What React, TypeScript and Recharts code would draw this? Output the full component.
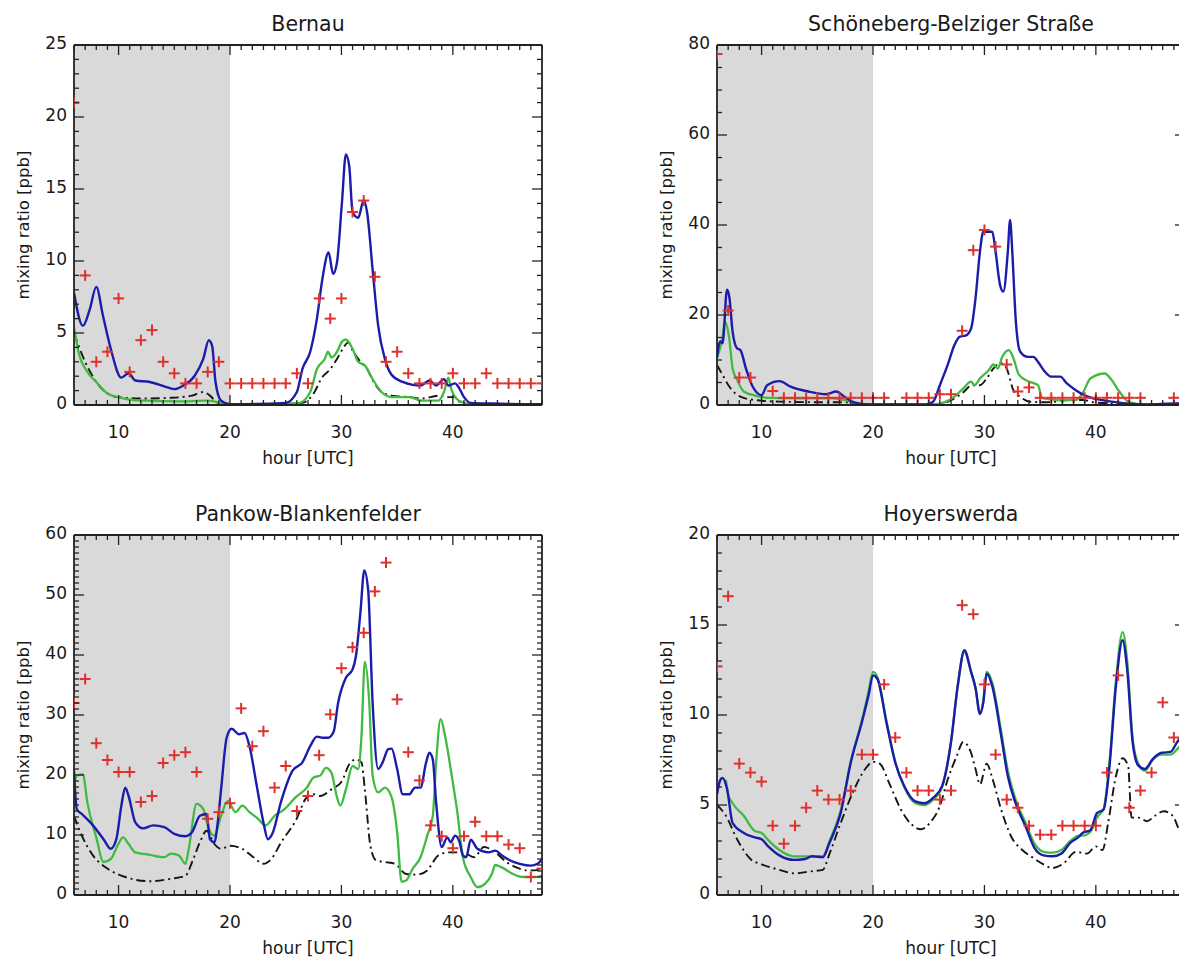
import React from "react";
import { ComposedChart, Line, Scatter, XAxis, YAxis, ReferenceArea } from "recharts";

type Pt = [number, number];

const FONT = "'DejaVu Sans', Verdana, sans-serif";
const AXIS = "#222";
const BLUE = "#1c1cac";
const GREEN = "#40bb40";
const BLACK = "#151515";
const RED = "#e0302c";
const NIGHT = "#d9d9d9";

const PLOT_W = 468;
const PLOT_H = 360;
const M = { top: 45, left: 74, right: 58, bottom: 75 };
const CHART_W = M.left + PLOT_W + M.right;
const CHART_H = M.top + PLOT_H + M.bottom;
// room taken by the axes themselves; the margins passed to the chart are reduced by these
const AX_L = 40;
const AX_R = 10;
const AX_T = 10;
const AX_B = 30;
const CHART_MARGIN = { top: M.top - AX_T, left: M.left - AX_L, right: M.right - AX_R, bottom: M.bottom - AX_B };

const X_MIN = 6;
const X_MAX = 48;
const NIGHT_END = 20;

// ---- Bernau ----
const BERNAU_OBS: Pt[] = [
  [6, 21], [7, 9], [8, 3], [9, 3.7], [10, 7.4], [11, 2.3], [12, 4.5], [13, 5.2], [14, 3], [15, 2.2],
  [16, 1.5], [17, 1.5], [18, 2.3], [19, 3], [20, 1.5], [21, 1.5], [22, 1.5], [23, 1.5], [24, 1.5], [25, 1.5],
  [26, 2.2], [27, 1.5], [28, 7.4], [29, 6], [30, 7.4], [31, 13.4], [32, 14.2], [33, 8.9], [34, 3], [35, 3.7],
  [36, 2.2], [37, 1.5], [38, 1.5], [39, 1.5], [40, 2.2], [41, 1.5], [42, 1.5], [43, 2.2], [44, 1.5], [45, 1.5],
  [46, 1.5], [47, 1.5], [48, 1.5],
];
const BERNAU_BLUE: Pt[] = [
  [6, 7.8], [6.8, 5.5], [7.4, 6.6], [8, 8.2], [8.6, 6.2], [9.3, 3.9], [10.25, 1.9], [10.9, 2.2], [11.5, 1.7],
  [12.8, 1.6], [14.1, 1.3], [15, 1.1], [15.8, 1.35], [16.8, 2.0], [17.6, 3.2], [18.1, 4.5], [18.4, 4.1],
  [18.7, 1.6], [19.2, 0.3], [20, 0.05], [25, 0.15], [26, 0.9], [26.5, 2.5], [27.2, 3.7], [27.8, 6.0],
  [28.3, 8.8], [28.85, 10.6], [29.25, 9.1], [29.6, 9.9], [30.05, 14.1], [30.4, 17.4], [30.7, 16.6], [31, 13.4],
  [31.5, 13.0], [32, 14.2], [32.3, 13.4], [32.8, 9.4], [33.3, 5.5], [33.9, 3.2], [34.5, 2.1], [35.5, 1.6],
  [36.4, 1.4], [37.1, 1.35], [37.9, 1.7], [38.5, 1.35], [39.2, 1.8], [39.6, 1.35], [40.2, 1.5], [40.5, 1.25],
  [41, 0.55], [41.6, 0.15], [43.5, 0.1], [48, 0.05],
];
const BERNAU_GREEN: Pt[] = [
  [6, 5.4], [6.4, 3.7], [7.2, 2.3], [8, 1.6], [9, 0.8], [9.9, 0.55], [12.2, 0.3], [15.4, 0.25], [17.9, 0.3],
  [19.2, 0.15], [20, 0.03], [26.2, 0.15], [27.2, 0.9], [27.8, 2.5], [28.5, 3.2], [28.8, 3.7], [29.1, 3.3],
  [29.6, 3.7], [30.05, 4.4], [30.4, 4.55], [31, 3.9], [31.5, 3.0], [32.1, 2.75], [32.8, 1.8], [33.6, 0.9],
  [34.5, 0.55], [36.1, 0.55], [37.2, 0.3], [38.7, 0.3], [39.2, 0.9], [39.6, 1.9], [39.8, 1.25], [40.3, 0.45],
  [41, 0.15], [41.9, 0.02], [48, 0.02],
];
const BERNAU_BLACK: Pt[] = [
  [6, 5.0], [7, 3.0], [8, 1.6], [9.9, 0.55], [12.2, 0.45], [14.7, 0.5], [16.6, 0.65], [17.6, 0.9], [18.2, 0.65],
  [18.9, 0.15], [20, 0.02], [26.5, 0.15], [27.5, 0.8], [28.3, 1.95], [28.9, 2.4], [29.6, 3.2], [30.2, 4.0],
  [30.6, 4.35], [31, 3.8], [31.7, 3.0], [32.3, 2.5], [32.9, 1.6], [33.6, 0.9], [34.5, 0.65], [36.1, 0.55],
  [37.2, 0.45], [38, 0.55], [38.8, 0.65], [39.5, 0.55], [40.2, 0.55], [40.6, 0.2], [41.2, 0.02], [48, 0.02],
];

// ---- Schöneberg ----
const SCHOENEBERG_OBS: Pt[] = [
  [6, 78], [7, 21], [8, 6.1], [9, 6.1], [11, 3.1], [12, 1.6], [13, 1.6], [14, 1.6], [15, 1.6], [16, 1.6],
  [17, 1.6], [18, 1.6], [19, 1.6], [20, 1.6], [21, 1.6], [23, 1.6], [24, 1.6], [25, 1.6], [26, 2.4], [27, 2.4],
  [28, 16.5], [29, 34.4], [30, 38.9], [31, 35.2], [32, 9.0], [33, 3.0], [34, 3.9], [35, 1.6], [36, 1.6],
  [37, 1.6], [38, 1.6], [39, 1.6], [40, 1.6], [41, 1.6], [42, 1.6], [43, 1.6], [44, 1.6], [47, 1.6],
];
const SCHOENEBERG_BLUE: Pt[] = [
  [6, 10.7], [6.3, 14.1], [6.5, 13.7], [6.9, 25.6], [7.1, 24.1], [7.4, 16.3], [7.8, 12.6], [8.1, 12.2],
  [8.6, 8.1], [9.2, 4.1], [10, 2.2], [10.5, 4.4], [11.6, 5.3], [12.6, 4.1], [14.2, 3.0], [15.8, 2.4],
  [16.7, 3.0], [17.4, 1.9], [18.3, 0.6], [19.6, 0.15], [24.75, 0.15], [25.4, 0.75], [26, 4.4], [26.7, 8.9],
  [27.3, 13.3], [27.8, 15.2], [28.3, 15.4], [28.8, 17.0], [29.2, 23.7], [29.6, 34.1], [29.9, 38.5],
  [30.2, 38.5], [30.7, 38.5], [31, 34.1], [31.4, 26.7], [31.7, 25.2], [32.1, 34.1], [32.3, 41.1], [32.5, 34.1],
  [32.8, 19.3], [33.2, 11.9], [33.9, 10.7], [34.4, 10.7], [34.8, 9.6], [35.3, 7.8], [36, 6.3], [36.8, 6.3],
  [37.4, 4.8], [38.2, 3.3], [39.2, 1.9], [40.1, 1.3], [41.4, 0.75], [42.7, 0.35], [44.6, 0.15], [47.2, 0.35],
  [48, 0.3],
];
const SCHOENEBERG_GREEN: Pt[] = [
  [6, 10.4], [6.5, 15.2], [6.7, 18.5], [7.1, 14.8], [7.4, 8.1], [7.8, 5.6], [8.4, 3.0], [9.4, 2.1], [10.6, 1.6],
  [13.2, 1.5], [16.4, 1.5], [17.7, 0.9], [19, 0.15], [25.4, 0.15], [26.4, 0.6], [27.3, 1.85], [28.1, 3.7],
  [28.8, 5.2], [29.1, 4.4], [29.6, 5.9], [30.4, 7.8], [30.8, 9.0], [31.2, 8.1], [31.6, 10.7], [32.2, 12.2],
  [32.6, 10.4], [33.1, 6.7], [34, 5.2], [34.8, 4.4], [35.2, 1.5], [36.6, 1.1], [38.2, 1.1], [38.9, 3.0],
  [39.5, 5.9], [40.8, 7.0], [41.4, 5.6], [42.1, 3.0], [43, 0.6], [44.3, 0.15], [48, 0.15],
];
const SCHOENEBERG_BLACK: Pt[] = [
  [6, 8.9], [6.5, 6.7], [7.1, 4.1], [8.1, 1.85], [9.4, 1.1], [11.6, 0.75], [16.4, 0.6], [17.7, 0.6], [19, 0.15],
  [26, 0.15], [27, 1.1], [28, 2.6], [28.9, 4.4], [29.6, 4.4], [30.2, 5.9], [30.8, 8.1], [31.5, 9.3], [32, 8.1],
  [32.6, 3.3], [33.2, 1.85], [34, 0.75], [35.6, 0.6], [37.6, 1.1], [38.9, 1.1], [39.8, 0.6], [41.4, 0.35],
  [48, 0.15],
];

// ---- Pankow-Blankenfelder ----
const PANKOW_OBS: Pt[] = [
  [6, 32], [7, 36], [8, 25.3], [9, 22.5], [10, 20.5], [11, 20.5], [12, 15.5], [13, 16.5], [14, 22], [15, 23.3],
  [16, 23.8], [17, 20.5], [18, 12.7], [19, 13.8], [20, 15.3], [21, 31.1], [22, 24.8], [23, 27.3], [24, 17.9],
  [25, 21.5], [26, 14], [27, 16.5], [28, 23.3], [29, 30.1], [30, 37.8], [31, 41.3], [32, 43.7], [33, 50.6],
  [34, 55.4], [35, 32.6], [36, 23.8], [37, 19.1], [38, 11.6], [39, 9.8], [40, 7.8], [41, 9.8], [42, 12.2],
  [43, 9.8], [44, 9.8], [45, 8.4], [46, 7.8], [47, 3], [48, 4.4],
];
const PANKOW_BLUE: Pt[] = [
  [6, 20.7], [6.25, 14.3], [6.7, 13.5], [7.7, 11.6], [8.65, 9.3], [9.3, 7.7], [9.8, 9.3], [10.25, 14.9],
  [10.6, 17.9], [10.9, 16.5], [11.5, 12.1], [12.2, 11.1], [13.1, 11.6], [14.1, 11.3], [15, 10.2], [16, 9.8],
  [16.6, 10.5], [17.3, 13.2], [17.9, 13.5], [18.2, 9.3], [18.6, 8.8], [18.9, 12.1], [19.2, 17.6], [19.7, 26.2],
  [20.15, 27.7], [20.8, 26.8], [21.3, 27.0], [21.75, 24.8], [22.4, 18.2], [23, 12.1], [23.4, 9.3], [23.8, 10.2],
  [24.6, 15.7], [25.6, 20.7], [26.5, 22.1], [27.2, 24.8], [27.8, 26.4], [28.3, 26.2], [28.8, 26.2], [29.3, 27.2],
  [29.7, 32.0], [30.4, 36.2], [31, 37.6], [31.3, 39.8], [31.7, 47.0], [32.05, 54.1], [32.4, 50.8], [32.8, 32.0],
  [33.3, 21.0], [33.7, 22.1], [34.2, 24.3], [34.5, 24.4], [35, 21.0], [35.5, 16.8], [36.1, 16.8], [36.6, 17.9],
  [37.1, 17.9], [37.6, 22.1], [37.9, 23.7], [38.2, 22.6], [38.5, 15.4], [39, 8.0], [39.5, 9.6], [39.8, 8.8],
  [40.2, 9.9], [40.6, 8.8], [40.9, 6.6], [41.2, 6.3], [41.6, 9.2], [42.2, 7.7], [43.2, 7.1], [43.8, 7.4],
  [44.4, 6.6], [45.1, 5.8], [46, 5.2], [47, 4.9], [47.6, 5.2], [48, 6.0],
];
const PANKOW_GREEN: Pt[] = [
  [6, 18.5], [6.25, 19.9], [6.8, 20.1], [7.2, 15.4], [8, 9.6], [8.65, 5.5], [9.3, 6.0], [9.9, 8.2], [10.4, 9.6],
  [10.9, 8.5], [11.5, 7.1], [12.8, 6.7], [14.1, 6.3], [14.7, 6.9], [15.4, 6.6], [16, 5.2], [16.3, 7.7],
  [17, 15.2], [17.6, 14.3], [18.1, 11.0], [18.6, 9.9], [19.2, 13.2], [19.8, 15.7], [20.5, 13.8], [21.1, 14.9],
  [21.75, 13.8], [22.4, 12.9], [23.2, 11.6], [24, 13.2], [24.9, 14.3], [25.9, 16.3], [26.9, 17.9], [27.5, 19.6],
  [28.1, 19.9], [28.6, 21.2], [29.1, 20.4], [29.6, 16.3], [29.9, 14.9], [30.4, 17.6], [31, 21.5], [31.5, 21.0],
  [31.8, 26.5], [32.1, 38.9], [32.5, 32.0], [32.8, 19.9], [33.3, 17.1], [33.9, 17.9], [34.5, 16.3], [35, 10.5],
  [35.4, 2.2], [35.8, 2.4], [36.4, 4.4], [37.1, 6.3], [37.7, 9.9], [38.2, 13.2], [38.5, 22.1], [38.9, 29.3],
  [39.3, 26.5], [39.9, 19.9], [40.4, 13.8], [40.9, 6.3], [41.6, 3.0], [42.2, 1.3], [42.9, 1.9], [43.5, 3.5],
  [43.8, 5.0], [44.4, 4.6], [45.4, 3.5], [46.3, 3.0], [47.3, 3.0], [48, 3.2],
];
const PANKOW_BLACK: Pt[] = [
  [6, 13.2], [6.7, 9.9], [7.7, 6.6], [9, 4.4], [10.6, 3.0], [12.8, 2.3], [14.7, 2.7], [16, 3.2], [16.6, 5.5],
  [17.3, 8.8], [17.9, 10.7], [18.6, 8.5], [19.2, 7.7], [20, 8.2], [21.1, 7.7], [22.1, 6.3], [23, 5.2],
  [23.7, 6.0], [24.6, 8.8], [25.9, 12.4], [26.9, 16.3], [27.5, 16.8], [28.1, 16.5], [29.1, 17.6], [30.05, 19.0],
  [30.7, 21.8], [31.3, 22.6], [31.8, 22.1], [32.1, 17.6], [32.6, 8.2], [33.1, 5.8], [33.9, 5.5], [34.8, 5.2],
  [35.8, 3.5], [36.8, 3.4], [37.7, 4.1], [38.7, 6.6], [39.6, 7.1], [40.9, 7.1], [41.9, 6.3], [42.8, 8.0],
  [43.8, 7.1], [44.8, 5.5], [45.7, 4.6], [46.7, 4.1], [47.3, 4.1], [48, 4.4],
];

// ---- Hoyerswerda ----
const HOYERSWERDA_OBS: Pt[] = [
  [6, 12.7], [7, 16.6], [8, 7.3], [9, 6.8], [10, 6.3], [11, 3.85], [12, 2.85], [13, 3.85], [14, 4.85], [15, 5.8],
  [16, 5.3], [17, 5.3], [18, 5.8], [19, 7.8], [20, 7.8], [21, 11.7], [22, 8.75], [23, 6.8], [24, 5.8], [25, 5.8],
  [26, 5.3], [27, 5.8], [28, 16.1], [29, 15.6], [30, 11.7], [31, 7.8], [32, 5.3], [33, 4.85], [34, 3.85],
  [35, 3.35], [36, 3.35], [37, 3.85], [38, 3.85], [39, 3.85], [40, 3.85], [41, 6.8], [42, 12.2], [43, 4.85],
  [44, 5.8], [45, 6.8], [46, 10.7], [47, 8.75],
];
const HOYERSWERDA_BLUE: Pt[] = [
  [6, 5.6], [6.3, 6.4], [6.5, 6.5], [6.9, 5.9], [7.4, 4.0], [8.4, 3.45], [9.4, 3.2], [10, 3.1], [10.6, 2.7],
  [11.6, 2.2], [12.9, 1.95], [13.9, 2.0], [14.5, 2.15], [15.5, 2.1], [16.1, 2.9], [17.1, 4.55], [18, 7.35],
  [19, 9.6], [19.6, 11.1], [20, 12.2], [20.4, 12.0], [21.2, 9.6], [22, 7.35], [22.8, 6.05], [23.8, 5.2],
  [24.6, 5.1], [25.4, 5.4], [26.2, 6.05], [27, 8.5], [27.6, 11.6], [28.2, 13.6], [28.8, 12.4], [29.2, 11.5],
  [29.6, 10.05], [29.9, 10.7], [30.2, 12.3], [30.7, 11.6], [31.5, 8.85], [32.1, 6.6], [32.8, 5.1], [33.7, 3.8],
  [34.5, 2.6], [35.3, 2.2], [36.1, 2.15], [36.9, 2.3], [37.7, 2.9], [38.5, 3.25], [38.8, 3.45], [39.5, 3.6],
  [40.1, 4.55], [40.7, 4.75], [41.2, 7.0], [41.8, 11.6], [42.4, 14.15], [42.8, 12.6], [43.3, 8.5], [43.8, 7.2],
  [44.4, 7.0], [45.1, 7.55], [45.9, 7.9], [46.7, 7.95], [47.3, 8.5], [48, 9.0],
];
const HOYERSWERDA_GREEN: Pt[] = [
  [6.8, 6.4], [7.0, 5.6], [7.4, 5.1], [8.4, 4.4], [9.4, 3.55], [10, 3.45], [10.6, 3.05], [11.6, 2.5],
  [12.9, 2.15], [14.2, 2.15], [15.5, 2.15], [16.1, 3.0], [17.1, 4.7], [18, 7.4], [19, 9.7], [19.6, 11.3],
  [20, 12.4], [20.4, 12.1], [21.2, 9.7], [22, 7.4], [22.8, 6.0], [23.8, 5.1], [24.6, 5.0], [25.4, 5.3],
  [26.2, 6.0], [27, 8.5], [27.6, 11.6], [28.2, 13.5], [28.8, 12.4], [29.2, 11.5], [29.6, 10.1], [29.9, 10.8],
  [30.2, 12.4], [30.7, 11.8], [31.5, 9.1], [32.1, 6.9], [32.8, 5.3], [33.7, 4.0], [34.5, 2.85], [35.3, 2.4],
  [36.1, 2.35], [36.9, 2.5], [37.7, 3.0], [38.5, 3.3], [38.8, 3.3], [39.5, 3.5], [40.1, 4.3], [40.7, 4.8],
  [41.2, 7.2], [41.8, 11.9], [42.4, 14.6], [42.8, 13.1], [43.3, 8.7], [43.8, 7.3], [44.4, 6.9], [45.1, 7.5],
  [45.9, 7.8], [46.7, 7.8], [47.3, 8.1], [48, 8.6],
];
const HOYERSWERDA_BLACK: Pt[] = [
  [6, 5.0], [6.8, 4.4], [7.8, 3.1], [9, 2.0], [10, 1.7], [11.6, 1.4], [13, 1.2], [14.2, 1.3], [15.5, 1.4],
  [16.1, 2.3], [17.1, 4.0], [18.3, 5.85], [19.3, 7.0], [20, 7.4], [20.6, 7.3], [21.5, 6.15], [22.5, 4.75],
  [23.5, 3.9], [24.3, 3.65], [25.1, 4.0], [26, 4.95], [26.7, 6.4], [27.5, 7.7], [28.1, 8.5], [28.8, 7.9],
  [29.2, 7.0], [29.6, 6.15], [30.2, 7.3], [30.7, 6.5], [31.5, 4.75], [32.4, 3.25], [33.4, 2.5], [34.4, 2.05],
  [35.3, 1.7], [36.1, 1.5], [37.1, 1.75], [38.2, 2.4], [39.2, 2.3], [40, 2.7], [40.6, 2.5], [41.1, 4.0],
  [41.8, 6.6], [42.4, 7.6], [42.9, 7.15], [43.2, 4.3], [43.8, 4.3], [44.6, 4.1], [45.3, 4.4], [46.1, 4.65],
  [46.9, 4.4], [47.5, 3.6], [48, 3.2],
];

const toRows = (pts: Pt[]) => pts.map(([h, v]) => ({ h, v }));

const range = (a: number, b: number, step: number) => {
  const out: number[] = [];
  for (let v = a; v <= b + 1e-9; v += step) out.push(Math.round(v * 1000) / 1000);
  return out;
};

const X_TICKS = range(X_MIN, X_MAX, 1);
const PLOT_L = M.left;
const PLOT_R = M.left + PLOT_W;
const PLOT_T = M.top;
const PLOT_B = M.top + PLOT_H;
const MAJOR = 10;
const MINOR = 5;

const textStyle = { fontFamily: FONT, fill: "#1a1a1a" } as const;

const Plus = (props: any) => {
  const { cx, cy } = props;
  if (cx == null || cy == null) return null;
  const r = 5.5;
  return (
    <g stroke={RED} strokeWidth={2}>
      <line x1={cx - r} x2={cx + r} y1={cy} y2={cy} />
      <line x1={cx} x2={cx} y1={cy - r} y2={cy + r} />
    </g>
  );
};

function Panel(props: {
  title: string;
  left: number;
  top: number;
  yMax: number;
  yMajor: number;
  yMinor: number;
  obs: Pt[];
  blue: Pt[];
  green: Pt[];
  black: Pt[];
}) {
  const { title, left, top, yMax, yMajor, yMinor } = props;
  const yTicks = range(0, yMax, yMinor);
  const obs = toRows(props.obs);
  const isMajorY = (v: number) => Math.abs(v / yMajor - Math.round(v / yMajor)) < 1e-6;

  const bottomTick = (p: any) => {
    const v = p.payload.value;
    const major = v % 10 === 0;
    return (
      <g>
        <line x1={p.x} x2={p.x} y1={PLOT_B} y2={PLOT_B - (major ? MAJOR : MINOR)} stroke={AXIS} strokeWidth={1.3} />
        {major && (
          <text x={p.x} y={PLOT_B + 27} textAnchor="middle" dominantBaseline="central" fontSize={17} style={textStyle}>
            {v}
          </text>
        )}
      </g>
    );
  };
  const topTick = (p: any) => {
    const major = p.payload.value % 10 === 0;
    return <line x1={p.x} x2={p.x} y1={PLOT_T} y2={PLOT_T + (major ? MAJOR : MINOR)} stroke={AXIS} strokeWidth={1.3} />;
  };
  const leftTick = (p: any) => {
    const v = p.payload.value;
    const major = isMajorY(v);
    return (
      <g>
        <line x1={PLOT_L} x2={PLOT_L + (major ? MAJOR : MINOR)} y1={p.y} y2={p.y} stroke={AXIS} strokeWidth={1.3} />
        {major && (
          <text x={PLOT_L - 7} y={p.y - 2} textAnchor="end" dominantBaseline="central" fontSize={17} style={textStyle}>
            {v}
          </text>
        )}
      </g>
    );
  };
  const rightTick = (p: any) => {
    const major = isMajorY(p.payload.value);
    return <line x1={PLOT_R} x2={PLOT_R - (major ? MAJOR : MINOR)} y1={p.y} y2={p.y} stroke={AXIS} strokeWidth={1.3} />;
  };

  const axisLine = { stroke: AXIS, strokeWidth: 1.8 };
  const yLabelX = PLOT_L - 51;

  return (
    <div style={{ position: "absolute", left: left - M.left, top: top - M.top, width: CHART_W, height: CHART_H }}>
      <ComposedChart width={CHART_W} height={CHART_H} margin={CHART_MARGIN}>
        <XAxis xAxisId="b" dataKey="h" type="number" domain={[X_MIN, X_MAX]} allowDataOverflow ticks={X_TICKS}
          interval={0} height={AX_B} tickLine={false} axisLine={axisLine} tick={bottomTick} />
        <XAxis xAxisId="t" orientation="top" dataKey="h" type="number" domain={[X_MIN, X_MAX]} allowDataOverflow
          ticks={X_TICKS} interval={0} height={AX_T} tickLine={false} axisLine={axisLine} tick={topTick} />
        <YAxis yAxisId="l" dataKey="v" type="number" domain={[0, yMax]} allowDataOverflow ticks={yTicks}
          interval={0} width={AX_L} tickLine={false} axisLine={axisLine} tick={leftTick} />
        <YAxis yAxisId="r" orientation="right" dataKey="v" type="number" domain={[0, yMax]} allowDataOverflow
          ticks={yTicks} interval={0} width={AX_R} tickLine={false} axisLine={axisLine} tick={rightTick} />
        <ReferenceArea xAxisId="b" yAxisId="l" x1={X_MIN} x2={NIGHT_END} y1={0} y2={yMax} fill={NIGHT}
          fillOpacity={1} stroke="none" />
        <Line xAxisId="t" yAxisId="r" data={obs} dataKey="v" stroke="none" dot={false} activeDot={false}
          isAnimationActive={false} />
        <Line xAxisId="b" yAxisId="l" data={toRows(props.black)} dataKey="v" type="monotone" stroke={BLACK}
          strokeWidth={1.9} strokeDasharray="9 4 2 4" dot={false} activeDot={false} isAnimationActive={false} />
        <Line xAxisId="b" yAxisId="l" data={toRows(props.green)} dataKey="v" type="monotone" stroke={GREEN}
          strokeWidth={2.3} dot={false} activeDot={false} isAnimationActive={false} />
        <Line xAxisId="b" yAxisId="l" data={toRows(props.blue)} dataKey="v" type="monotone" stroke={BLUE}
          strokeWidth={2.4} dot={false} activeDot={false} isAnimationActive={false} />
        <Scatter xAxisId="b" yAxisId="l" data={obs} dataKey="v" shape={Plus} isAnimationActive={false} />
      </ComposedChart>
      <svg width={CHART_W} height={CHART_H} style={{ position: "absolute", left: 0, top: 0, pointerEvents: "none" }}>
        <text x={PLOT_L + PLOT_W / 2} y={PLOT_T - 21} textAnchor="middle" dominantBaseline="central" fontSize={20.5}
          style={textStyle}>
          {title}
        </text>
        <text x={PLOT_L + PLOT_W / 2} y={PLOT_B + 53} textAnchor="middle" dominantBaseline="central" fontSize={17}
          style={textStyle}>
          hour [UTC]
        </text>
        <text x={yLabelX} y={PLOT_T + PLOT_H / 2} textAnchor="middle" dominantBaseline="central" fontSize={16.5}
          style={textStyle} transform={`rotate(-90 ${yLabelX} ${PLOT_T + PLOT_H / 2})`}>
          mixing ratio [ppb]
        </text>
      </svg>
    </div>
  );
}

export default function App() {
  return (
    <div style={{ position: "absolute", left: 0, top: 0, width: 1179, height: 959, overflow: "hidden", background: "#fff" }}>
      <Panel title="Bernau" left={74} top={45} yMax={25} yMajor={5} yMinor={1}
        obs={BERNAU_OBS} blue={BERNAU_BLUE} green={BERNAU_GREEN} black={BERNAU_BLACK} />
      <Panel title="Schöneberg-Belziger Straße" left={717} top={45} yMax={80} yMajor={20} yMinor={5}
        obs={SCHOENEBERG_OBS} blue={SCHOENEBERG_BLUE} green={SCHOENEBERG_GREEN} black={SCHOENEBERG_BLACK} />
      <Panel title="Pankow-Blankenfelder" left={74} top={535} yMax={60} yMajor={10} yMinor={1}
        obs={PANKOW_OBS} blue={PANKOW_BLUE} green={PANKOW_GREEN} black={PANKOW_BLACK} />
      <Panel title="Hoyerswerda" left={717} top={535} yMax={20} yMajor={5} yMinor={1}
        obs={HOYERSWERDA_OBS} blue={HOYERSWERDA_BLUE} green={HOYERSWERDA_GREEN} black={HOYERSWERDA_BLACK} />
    </div>
  );
}
